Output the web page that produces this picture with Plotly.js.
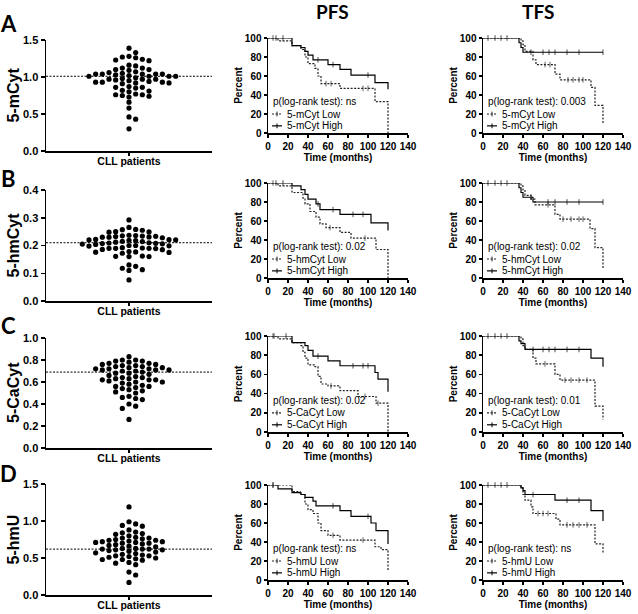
<!DOCTYPE html>
<html><head><meta charset="utf-8">
<script src="https://cdn.plot.ly/plotly-3.0.1.min.js"></script>
<style>html,body{margin:0;padding:0;background:#fff}#chart{width:638px;height:614px}</style>
</head><body><div id="chart"></div>
<script>
// ---------- DATA ----------
const markerNames = ['5-mCyt', '5-hmCyt', '5-CaCyt', '5-hmU'];
const panelLetters = ['A', 'B', 'C', 'D'];
const columnTitles = ['PFS', 'TFS'];
const xCategory = 'CLL patients';

const vals_mCyt = [1.39,1.33,1.28,1.27,1.26,1.24,1.23,1.22,1.16,1.15,1.12,1.12,1.10,1.10,1.09,1.07,1.06,1.05,1.04,1.04,1.04,1.04,1.04,1.03,1.02,1.01,1.01,1.01,1.01,0.99,0.98,0.97,0.97,0.97,0.96,0.95,0.94,0.93,0.93,0.93,0.92,0.92,0.91,0.87,0.86,0.86,0.85,0.82,0.81,0.80,0.77,0.76,0.76,0.75,0.74,0.73,0.66,0.58,0.46,0.43,0.30];
const vals_hmCyt = [0.292,0.265,0.258,0.257,0.255,0.25,0.249,0.248,0.237,0.236,0.235,0.234,0.233,0.232,0.231,0.23,0.23,0.228,0.222,0.221,0.22,0.22,0.219,0.218,0.215,0.214,0.212,0.21,0.209,0.208,0.207,0.206,0.205,0.204,0.2,0.2,0.199,0.198,0.192,0.191,0.19,0.19,0.19,0.189,0.186,0.185,0.178,0.177,0.176,0.175,0.172,0.162,0.161,0.16,0.16,0.13,0.125,0.118,0.113,0.11,0.076];
const vals_CaCyt = [0.83,0.80,0.80,0.79,0.79,0.78,0.77,0.77,0.76,0.76,0.75,0.75,0.74,0.74,0.73,0.73,0.72,0.72,0.72,0.71,0.71,0.71,0.70,0.70,0.69,0.68,0.68,0.67,0.66,0.65,0.64,0.64,0.63,0.63,0.62,0.62,0.62,0.61,0.60,0.60,0.59,0.58,0.57,0.56,0.56,0.55,0.54,0.53,0.52,0.51,0.50,0.47,0.46,0.45,0.44,0.40,0.38,0.36,0.26];
const vals_hmU = [1.19,0.99,0.96,0.94,0.93,0.88,0.85,0.84,0.83,0.82,0.80,0.78,0.77,0.77,0.76,0.75,0.74,0.74,0.73,0.72,0.72,0.71,0.71,0.70,0.70,0.69,0.68,0.67,0.66,0.65,0.63,0.63,0.62,0.62,0.62,0.61,0.61,0.60,0.59,0.58,0.57,0.56,0.55,0.54,0.53,0.53,0.52,0.51,0.50,0.49,0.48,0.48,0.47,0.44,0.43,0.41,0.31,0.27,0.17];
const medians = [1.01, 0.21, 0.69, 0.62];
const scatterYMax = [1.5, 0.4, 1.0, 1.5];
const scatterYStep = [0.5, 0.1, 0.2, 0.5];

const pPFS = ['ns', '0.02', '0.02', 'ns'];
const pTFS = ['0.003', '0.02', '0.01', 'ns'];
const kmXTicks = [0, 20, 40, 60, 80, 100, 120, 140];
const kmYTicks = [0, 20, 40, 60, 80, 100];

// Kaplan-Meier curves: event times (T), survival after event (S), censor times (C)
const pfsA_lowT = [10,24,33,37,40,47,50,53,72,107,120];
const pfsA_lowS = [97,92,88,80,73,68,60,52,47,33,0];
const pfsA_lowC = [5,58,63,95,100];
const pfsA_highT = [24,33,37,40,45,60,72,83,107,120];
const pfsA_highS = [92,90,86,82,77,72,67,61,53,46];
const pfsA_highC = [8,15,50,65,100];

const tfsA_lowT = [38,40,42,50,53,72,77,108,112,120];
const tfsA_lowS = [97,93,86,77,72,62,56,48,29,10];
const tfsA_lowC = [62,67,85,90,96,100];
const tfsA_highT = [36,38,40];
const tfsA_highS = [95,90,85];
const tfsA_highC = [5,12,18,24,48,60,66,72,84,96,120];

const pfsB_lowT = [10,24,35,37,42,48,52,58,72,83,108,120];
const pfsB_lowS = [97,90,84,78,70,64,57,53,48,42,30,0];
const pfsB_lowC = [5,62,97];
const pfsB_highT = [24,33,37,40,48,52,72,103,120];
const pfsB_highS = [97,93,88,83,78,72,67,58,50];
const pfsB_highC = [8,15,50,65,85,95];

const tfsB_lowT = [38,40,42,48,52,72,77,107,112,120];
const tfsB_lowS = [97,92,87,83,77,67,62,52,32,10];
const tfsB_lowC = [65,80,88,96,100];
const tfsB_highT = [36,38,40,50];
const tfsB_highS = [95,90,85,80];
const tfsB_highC = [5,12,18,24,48,65,72,84,96,120];

const pfsC_lowT = [10,24,33,35,37,40,47,50,53,60,72,90,108,120];
const pfsC_lowS = [97,93,90,83,77,70,68,58,50,48,43,37,30,0];
const pfsC_lowC = [5,63,97,110];
const pfsC_highT = [24,37,40,45,60,72,107,110,120];
const pfsC_highS = [93,90,85,79,74,69,62,55,42];
const pfsC_highC = [6,18,50,85,95,100];

const tfsC_lowT = [38,40,42,50,53,72,77,112,120];
const tfsC_lowS = [97,90,86,77,71,60,54,27,13];
const tfsC_lowC = [62,82,88,96,104];
const tfsC_highT = [36,38,42,108,120];
const tfsC_highS = [95,92,86,77,68];
const tfsC_highC = [5,12,18,24,50,60,66,72,84,96];

const pfsD_lowT = [24,32,37,40,45,50,53,60,72,107,113,120];
const pfsD_lowS = [93,90,80,74,70,60,52,47,42,35,32,10];
const pfsD_lowC = [5,65,95];
const pfsD_highT = [10,24,33,37,45,48,72,83,103,108,120];
const pfsD_highS = [96,92,90,87,83,78,73,67,60,52,38];
const pfsD_highC = [5,65,100];

const tfsD_lowT = [38,40,42,48,50,73,77,112,120];
const tfsD_lowS = [97,90,84,77,70,64,58,38,28];
const tfsD_lowC = [55,60,65,84,90,96,104];
const tfsD_highT = [38,40,42,72,108,120];
const tfsD_highS = [97,94,90,84,73,62];
const tfsD_highC = [5,12,18,24,50,84,96];

// ---------- GEOMETRY (px) ----------
const W = 638, H = 614;
const scatterXpx = [46, 212], pfsXpx = [268, 408], tfsXpx = [483, 623];
const scatterYpx = [[40,151],[190,301],[338,448],[484,595]];
const kmYpx = [[38,133],[183,278],[336,432],[485,580]];
const px2x = p => p / W, px2y = p => 1 - p / H;

const FONT = 'Arial, "Liberation Sans", sans-serif';
const HEAD = 'Lato, "Open Sans", sans-serif';

const scatterVals = [vals_mCyt, vals_hmCyt, vals_CaCyt, vals_hmU];
const kmData = [
  [[pfsA_lowT,pfsA_lowS,pfsA_lowC,pfsA_highT,pfsA_highS,pfsA_highC],[tfsA_lowT,tfsA_lowS,tfsA_lowC,tfsA_highT,tfsA_highS,tfsA_highC]],
  [[pfsB_lowT,pfsB_lowS,pfsB_lowC,pfsB_highT,pfsB_highS,pfsB_highC],[tfsB_lowT,tfsB_lowS,tfsB_lowC,tfsB_highT,tfsB_highS,tfsB_highC]],
  [[pfsC_lowT,pfsC_lowS,pfsC_lowC,pfsC_highT,pfsC_highS,pfsC_highC],[tfsC_lowT,tfsC_lowS,tfsC_lowC,tfsC_highT,tfsC_highS,tfsC_highC]],
  [[pfsD_lowT,pfsD_lowS,pfsD_lowC,pfsD_highT,pfsD_highS,pfsD_highC],[tfsD_lowT,tfsD_lowS,tfsD_lowC,tfsD_highT,tfsD_highS,tfsD_highC]]
];

function swarm(vals, pxPerUnit, slotData, minDy) {
  const placed = [];
  return vals.map(v => {
    const ypx = v * pxPerUnit;
    for (let k = 0; k < 50; k++) {
      const cands = k === 0 ? [0] : [k, -k];
      for (const s of cands) {
        if (!placed.some(p => p.s === s && Math.abs(p.y - ypx) < minDy)) {
          placed.push({s, y: ypx});
          return s * slotData;
        }
      }
    }
    return 0;
  });
}

function kmSeries(T, S, C) {
  const pts = [{t: 0, s: 100, c: 0, o: -1}];
  T.forEach((t, i) => pts.push({t, s: S[i], c: 0, o: 0}));
  C.forEach(t => pts.push({t, s: null, c: 1, o: 1}));
  pts.sort((a, b) => (a.t - b.t) || (a.o - b.o));
  let cur = 100;
  pts.forEach(p => { if (p.c) p.s = cur; else cur = p.s; });
  return {x: pts.map(p => p.t), y: pts.map(p => p.s), size: pts.map(p => p.c ? 4 : 0)};
}

const traces = [], layout = {
  width: W, height: H, margin: {l: 0, r: 0, t: 0, b: 0},
  paper_bgcolor: '#fff', plot_bgcolor: '#fff', showlegend: false,
  font: {family: FONT, color: '#000'},
  annotations: [], shapes: []
};

function axName(n, ax) { return ax + (n === 1 ? '' : n); }
function baseAxis() {
  return {showline: true, linecolor: '#000', linewidth: 1.5, ticks: 'outside', ticklen: 4, tickwidth: 1.5,
    tickcolor: '#000', showgrid: false, zeroline: false, fixedrange: true,
    tickfont: {family: FONT, size: 10, weight: 'bold', color: '#000'}};
}

for (let r = 0; r < 4; r++) {
  // scatter subplot
  const n = r + 1;
  const yDom = [px2y(scatterYpx[r][1]), px2y(scatterYpx[r][0])];
  const hpx = scatterYpx[r][1] - scatterYpx[r][0];
  const wpx = scatterXpx[1] - scatterXpx[0];
  const slotData = 6.67 * 2 / wpx;
  const xs = swarm(scatterVals[r], hpx / scatterYMax[r], slotData, 4.8);
  traces.push({type: 'scatter', mode: 'markers', x: xs, y: scatterVals[r], xaxis: axName(n,'x'), yaxis: axName(n,'y'),
    marker: {size: 5.2, color: '#000'}, cliponaxis: false, hoverinfo: 'skip'});
  traces.push({type: 'scatter', mode: 'lines', x: [-1, 1], y: [medians[r], medians[r]], xaxis: axName(n,'x'), yaxis: axName(n,'y'),
    line: {color: '#000', width: 1, dash: '2px,1.5px'}, cliponaxis: false, hoverinfo: 'skip'});
  const yt = [];
  for (let v = 0; v <= scatterYMax[r] + 1e-9; v += scatterYStep[r]) yt.push(+v.toFixed(2));
  layout[axName(n,'xaxis')] = Object.assign(baseAxis(), {domain: [px2x(scatterXpx[0]), px2x(scatterXpx[1])], range: [-1, 1],
    tickvals: [0], ticktext: [xCategory], anchor: axName(n,'y'), ticklen: 3, ticklabelstandoff: -3,
    tickfont: {family: FONT, size: 10.5, weight: 'bold', color: '#000'}});
  layout[axName(n,'yaxis')] = Object.assign(baseAxis(), {domain: yDom, range: [0, scatterYMax[r]], tickvals: yt, tickformat: '.1f',
    anchor: axName(n,'x'), tickfont: {family: FONT, size: 11, weight: 'bold', color: '#000'}});
  // y-axis title as a rotated annotation, close to the tick labels like the reference
  layout.annotations.push({text: markerNames[r], xref: 'paper', yref: 'paper', x: px2x(13), y: (yDom[0] + yDom[1]) / 2,
    xanchor: 'center', yanchor: 'middle', textangle: -90, showarrow: false, borderpad: 0,
    font: {family: FONT, size: 16, weight: 'bold', color: '#000'}});
  layout.annotations.push({text: panelLetters[r], xref: 'paper', yref: 'paper', x: px2x(8), y: px2y([23,178,325,473][r]),
    xanchor: 'center', yanchor: 'middle', showarrow: false, font: {family: HEAD, size: 22, weight: 'bold', color: '#000'}});

  // KM subplots
  for (let c = 0; c < 2; c++) {
    const m = 5 + r + 4 * c;
    const xpx = c === 0 ? pfsXpx : tfsXpx;
    const d = kmData[r][c];
    const xa = axName(m,'x'), ya = axName(m,'y');
    const low = kmSeries(d[0], d[1], d[2]);
    const high = kmSeries(d[3], d[4], d[5]);
    [[low, '2px,1.5px', '#222'], [high, 'solid', '#000']].forEach(([s, dash, col]) => {
      traces.push({type: 'scatter', mode: 'lines+markers', x: s.x, y: s.y, xaxis: xa, yaxis: ya,
        line: {shape: 'hv', color: col, width: 1.2, dash: dash},
        marker: {symbol: 'line-ns-open', size: s.size, color: col, line: {width: 1, color: col}},
        cliponaxis: false, hoverinfo: 'skip'});
    });
    layout[axName(m,'xaxis')] = Object.assign(baseAxis(), {domain: [px2x(xpx[0]), px2x(xpx[1])], range: [0, 140], tickvals: kmXTicks,
      anchor: ya, ticklen: 3, title: {text: 'Time (months)', font: {family: FONT, size: 10, weight: 'bold', color: '#000'}, standoff: 3}});
    layout[axName(m,'yaxis')] = Object.assign(baseAxis(), {domain: [px2y(kmYpx[r][1]), px2y(kmYpx[r][0])], range: [0, 100], tickvals: kmYTicks,
      anchor: xa, ticklen: 3, title: {text: 'Percent', font: {family: FONT, size: 10, weight: 'bold', color: '#000'}, standoff: 0}});
    const p = c === 0 ? pPFS[r] : pTFS[r];
    const legFont = {family: FONT, size: 10, color: '#000'};
    const legY = [33, 20, 7.5];
    layout.annotations.push({text: 'p(log-rank test): ' + p, xref: xa, yref: ya, x: 4, y: legY[0], xanchor: 'left', yanchor: 'middle', showarrow: false, font: legFont, borderpad: 0});
    layout.annotations.push({text: markerNames[r] + ' Low', xref: xa, yref: ya, x: 18, y: legY[1], xanchor: 'left', yanchor: 'middle', showarrow: false, font: legFont, borderpad: 0});
    layout.annotations.push({text: markerNames[r] + ' High', xref: xa, yref: ya, x: 18, y: legY[2], xanchor: 'left', yanchor: 'middle', showarrow: false, font: legFont, borderpad: 0});
    [[legY[1], '2px,1.5px', '#222'], [legY[2], 'solid', '#000']].forEach(([yy, dash, col]) => {
      layout.shapes.push({type: 'line', xref: xa, yref: ya, x0: 4, x1: 14, y0: yy, y1: yy, line: {color: col, width: 1.2, dash: dash}});
      layout.shapes.push({type: 'line', xref: xa, yref: ya, x0: 9, x1: 9, y0: yy - 2.5, y1: yy + 2.5, line: {color: col, width: 1}});
    });
  }
}
// column titles
layout.annotations.push({text: columnTitles[0], xref: 'paper', yref: 'paper', x: px2x(332), y: px2y(11), xanchor: 'center', yanchor: 'middle', showarrow: false, font: {family: HEAD, size: 19, weight: 'bold', color: '#000'}});
layout.annotations.push({text: columnTitles[1], xref: 'paper', yref: 'paper', x: px2x(538), y: px2y(11), xanchor: 'center', yanchor: 'middle', showarrow: false, font: {family: HEAD, size: 19, weight: 'bold', color: '#000'}});

Plotly.newPlot('chart', traces, layout, {displayModeBar: false, staticPlot: true});
</script></body></html>
